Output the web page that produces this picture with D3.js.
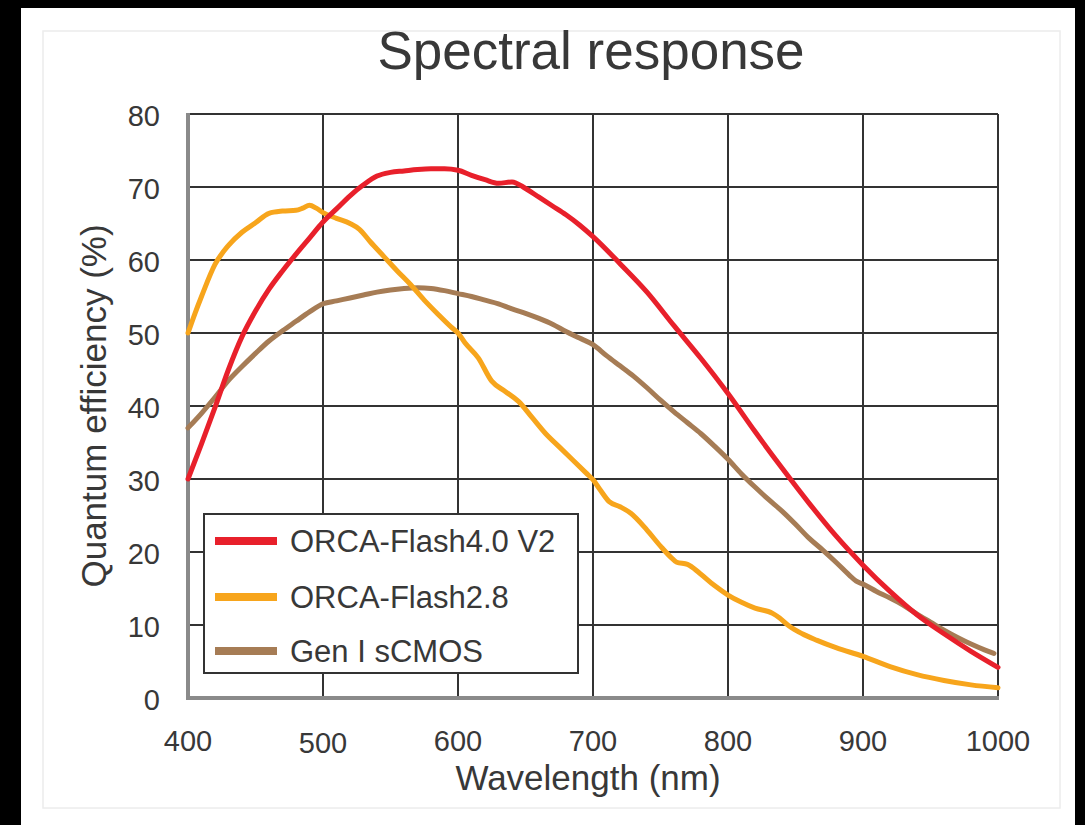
<!DOCTYPE html>
<html>
<head>
<meta charset="utf-8">
<script src="https://cdn.jsdelivr.net/npm/d3@7"></script>
<style>
  html, body { margin: 0; padding: 0; background: #000; }
  svg { display: block; }
  text { font-family: "Liberation Sans", Arial, Helvetica, sans-serif; fill: #383838; }
</style>
</head>
<body>
<div id="chart"></div>
<script>
// wavelength (nm) / quantum efficiency (%)
var redWl   = [400,410,420,430,440,450,460,470,480,490,500,510,520,530,540,550,560,570,580,590,600,610,620,630,640,650,660,670,680,690,700,720,740,760,780,800,820,840,860,880,900,920,940,960,980,1000];
var redQe   = [30,34.8,39.8,45,49.5,53,56,58.5,60.8,63,65.2,67,68.8,70.3,71.5,72,72.2,72.4,72.5,72.5,72.3,71.6,71,70.5,70.7,69.8,68.6,67.4,66.2,64.8,63.2,59.5,55.6,51,46.5,41.7,36.5,31.5,26.7,22.2,18.2,14.6,11.4,8.8,6.4,4.2];

var orangeWl = [400,405,410,420,430,440,450,460,470,480,485,490,495,500,510,520,527,535,545,555,565,575,585,595,600,605,615,625,635,645,655,665,675,685,695,700,705,712,720,728,740,750,757,762,770,779,790,800,810,820,833,838,845,855,866,880,900,920,940,960,980,1000];
var orangeQe = [50,52.6,55,59.4,62,63.8,65.1,66.4,66.7,66.8,67.1,67.5,67.1,66.5,65.7,65,64.2,62.5,60.5,58.5,56.6,54.5,52.6,50.8,50,48.7,46.6,43.4,42,40.6,38.4,36.2,34.4,32.6,30.8,29.9,28.6,26.9,26.2,25.3,23,20.8,19.4,18.6,18.3,17.1,15.4,14.1,13.1,12.3,11.6,11,9.9,8.8,7.9,6.9,5.7,4.3,3.2,2.4,1.8,1.4];

var brownWl = [400,410,420,430,440,450,460,470,480,490,500,510,520,530,540,550,560,570,580,590,600,610,620,630,640,650,660,670,680,690,700,710,720,730,740,750,760,770,780,790,800,810,820,830,840,850,860,870,880,890,895,900,910,920,930,940,950,960,970,980,990,997];
var brownQe = [37,39,41.2,43.5,45.4,47.2,48.9,50.3,51.6,52.9,54,54.4,54.8,55.2,55.6,55.9,56.1,56.2,56.1,55.8,55.4,55,54.5,54,53.3,52.7,52,51.2,50.2,49.3,48.4,46.9,45.5,44.1,42.5,40.8,39.2,37.7,36.2,34.5,32.7,30.7,28.9,27.2,25.6,23.8,21.9,20.3,18.6,16.8,16,15.6,14.6,13.7,12.7,11.5,10.4,9.3,8.3,7.4,6.6,6.1];

var seriesNames  = ["ORCA-Flash4.0 V2", "ORCA-Flash2.8", "Gen I sCMOS"];
var seriesColors = ["#e8202b", "#f7a51c", "#a67c55"];
var xTicks = [400,500,600,700,800,900,1000];
var yTicks = [0,10,20,30,40,50,60,70,80];

function SpectralChart(){
    var W = 1085, H = 825;
    var pLeft = 188, pRight = 998, pTop = 114, pBottom = 698;

    var svg = d3.select("#chart").append("svg")
        .attr("width", W)
        .attr("height", H);

    // white sheet and faint frame
    svg.append("rect").attr("x", 21).attr("y", 8).attr("width", 1054).attr("height", 817).attr("fill", "#fff");
    svg.append("rect").attr("x", 43).attr("y", 31).attr("width", 1017).attr("height", 777)
        .attr("fill", "none").attr("stroke", "#ececec").attr("stroke-width", 1.5);

    var x = d3.scaleLinear().domain([400, 1000]).range([pLeft, pRight]);
    var y = d3.scaleLinear().domain([0, 80]).range([pBottom, pTop]);

    // grid
    svg.append("g").selectAll("line")
        .data(xTicks.slice(1))
        .enter().append("line")
        .attr("x1", function(d){ return x(d); })
        .attr("x2", function(d){ return x(d); })
        .attr("y1", pTop).attr("y2", pBottom)
        .attr("stroke", "#333").attr("stroke-width", 2);

    svg.append("g").selectAll("line")
        .data(yTicks.slice(1))
        .enter().append("line")
        .attr("x1", pLeft).attr("x2", pRight)
        .attr("y1", function(d){ return y(d); })
        .attr("y2", function(d){ return y(d); })
        .attr("stroke", "#333").attr("stroke-width", 2);

    // left and bottom axis lines (grey)
    svg.append("line").attr("x1", pLeft).attr("x2", pLeft).attr("y1", pTop - 1).attr("y2", pBottom + 2)
        .attr("stroke", "#8a8a8a").attr("stroke-width", 4);
    svg.append("line").attr("x1", pLeft).attr("x2", pRight + 1).attr("y1", pBottom).attr("y2", pBottom)
        .attr("stroke", "#8a8a8a").attr("stroke-width", 4);

    // tick labels
    svg.append("g").selectAll("text")
        .data(yTicks)
        .enter().append("text")
        .attr("x", 160)
        .attr("y", function(d){ return y(d) + 12; })
        .attr("text-anchor", "end")
        .attr("font-size", 29)
        .text(function(d){ return d; });

    svg.append("g").selectAll("text")
        .data(xTicks)
        .enter().append("text")
        .attr("x", function(d){ return x(d); })
        .attr("y", function(d){ return d == 500 ? 753 : 751; })
        .attr("text-anchor", "middle")
        .attr("font-size", 29)
        .text(function(d){ return d; });

    // titles
    svg.append("text").attr("x", 591).attr("y", 69).attr("text-anchor", "middle")
        .attr("font-size", 53).text("Spectral response");
    svg.append("text").attr("x", 588).attr("y", 790).attr("text-anchor", "middle")
        .attr("font-size", 35).text("Wavelength (nm)");
    svg.append("text").attr("transform", "translate(106," + 406 + ") rotate(-90)")
        .attr("text-anchor", "middle")
        .attr("font-size", 35).text("Quantum efficiency (%)");

    // curves
    var line = d3.line()
        .x(function(d){ return x(d[0]); })
        .y(function(d){ return y(d[1]); })
        .curve(d3.curveMonotoneX);

    var curves = [
        { wl: brownWl, qe: brownQe, color: seriesColors[2] },
        { wl: orangeWl, qe: orangeQe, color: seriesColors[1] },
        { wl: redWl, qe: redQe, color: seriesColors[0] }
    ];

    svg.append("g").selectAll("path")
        .data(curves)
        .enter().append("path")
        .attr("d", function(c){ return line(d3.zip(c.wl, c.qe)); })
        .attr("fill", "none")
        .attr("stroke", function(c){ return c.color; })
        .attr("stroke-width", 5)
        .attr("stroke-linejoin", "round")
        .attr("stroke-linecap", "round");

    // legend
    var lg = svg.append("g");
    lg.append("rect").attr("x", 204).attr("y", 514).attr("width", 374).attr("height", 159)
        .attr("fill", "#fff").attr("stroke", "#333").attr("stroke-width", 2);

    var rows = lg.selectAll("g")
        .data(seriesNames)
        .enter().append("g")
        .attr("transform", function(d, i){ return "translate(0," + [541, 597, 651][i] + ")"; });

    rows.append("line").attr("x1", 215).attr("x2", 277).attr("y1", 0).attr("y2", 0)
        .attr("stroke", function(d, i){ return seriesColors[i]; })
        .attr("stroke-width", 8);
    rows.append("text").attr("x", 290).attr("y", 11)
        .attr("font-size", 31)
        .text(function(d){ return d; });
}

SpectralChart();
</script>
</body>
</html>
